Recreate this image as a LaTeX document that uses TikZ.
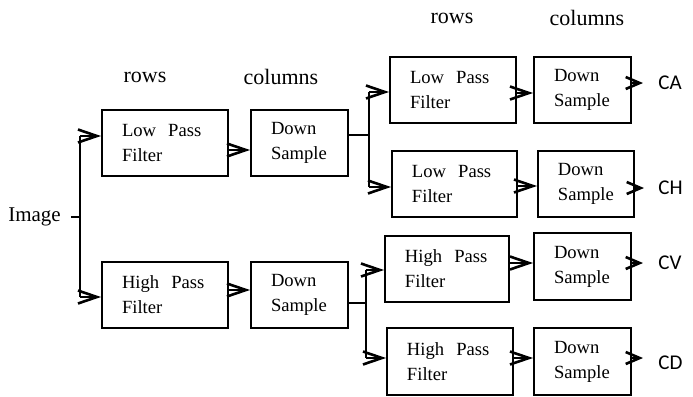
\documentclass[tikz,border=0pt]{standalone}
\usepackage{fontspec}
\setmainfont{Liberation Serif}
\newfontfamily\calib{Carlito}
\usetikzlibrary{arrows.meta,calc}
\begin{document}
\begin{tikzpicture}[x=0.5pt,y=-0.5pt,
  blk/.style={draw,line width=1pt,rectangle,inner ysep=0pt,inner xsep=10pt,align=left,
     minimum height=33pt,font=\fontsize{9.3}{12.5}\selectfont},
  filt/.style={blk,text width=43pt},
  dsb/.style={blk,text width=28.5pt},
  hdr/.style={font=\fontsize{11}{13}\selectfont,inner sep=0pt},
  outl/.style={font=\calib\fontsize{10.5}{12}\selectfont,anchor=west,inner sep=0pt},
  con/.style={line width=1pt},
  arr/.style={con,-{Straight Barb[length=9.5pt,width=6.5pt,line width=1.3pt]}},
  oarr/.style={con,-{Straight Barb[length=7pt,width=6pt,line width=1.3pt]}}]
\useasboundingbox (0,0) rectangle (693,397);
% headers
\node[hdr] (r1) at (145,77) {rows};
\node[hdr] (c1) at (281,77) {columns};
\node[hdr] (r2) at (452,18) {rows};
\node[hdr] (c2) at (587,18) {columns};
% input
\node[font=\fontsize{10.5}{12}\selectfont,inner sep=0pt] (img) at (34.5,217) {Image};
% first stage
\node[filt] (lpf1) at (165,143) {Low\hspace{0.65em}Pass\\Filter};
\node[dsb] (ds1) at (299.5,143) {Down\\Sample};
\node[filt] (hpf1) at (165,295) {High\hspace{0.65em}Pass\\Filter};
\node[dsb] (ds2) at (299.5,295) {Down\\Sample};
% second stage
\node[filt,text width=43pt] (lpf2) at (453,90) {Low\hspace{0.65em}Pass\\Filter};
\node[dsb] (ds3) at (582.5,90) {Down\\Sample};
\node[filt,text width=42.5pt] (lpf3) at (454.5,184) {Low\hspace{0.65em}Pass\\Filter};
\node[dsb,text width=28pt] (ds4) at (586,184) {Down\\Sample};
\node[filt,text width=42pt] (hpf2) at (447,269) {High\hspace{0.65em}Pass\\Filter};
\node[dsb,minimum height=33.5pt] (ds5) at (582.5,266.5) {Down\\Sample};
\node[filt,minimum height=33.5pt] (hpf3) at (450,361.5) {High\hspace{0.65em}Pass\\Filter};
\node[dsb,minimum height=33.5pt] (ds6) at (582.5,361.5) {Down\\Sample};
% outputs
\node[outl] (ca) at (658,83) {CA};
\node[outl] (ch) at (658,188) {CH};
\node[outl] (cv) at (658,263) {CV};
\node[outl] (cd) at (658,363) {CD};
% junctions
\coordinate (t0) at (71,217);
\coordinate (j0) at (80,217);
\coordinate (s1t) at (80,136);
\coordinate (s1b) at (80,297);
\coordinate (m1) at (0,150);
\coordinate (m2) at (0,290);
\coordinate (j1) at (369,135);
\coordinate (s2t) at (369,92);
\coordinate (s2b) at (369,187);
\coordinate (j2) at (366,303);
\coordinate (s3t) at (366,270);
\coordinate (s3b) at (366,358);
\coordinate (m3) at (0,93);
\coordinate (m4) at (0,186);
\coordinate (m5) at (0,263);
\coordinate (m6) at (0,358);
\coordinate (e1) at (643,83);
\coordinate (e2) at (644,188);
\coordinate (e3) at (643,263);
\coordinate (e4) at (643,358);
% connectors stage 1
\draw[con] (t0) -- (j0);
\draw[con] (s1t) -- (s1b);
\draw[arr] (s1t) -- (s1t -| lpf1.west);
\draw[arr] (s1b) -- (s1b -| hpf1.west);
\draw[arr] (lpf1.east |- m1) -- (ds1.west |- m1);
\draw[arr] (hpf1.east |- m2) -- (ds2.west |- m2);
% to stage 2
\draw[con] (j1 -| ds1.east) -- (j1);
\draw[con] (s2t) -- (s2b);
\draw[arr] (s2t) -- (s2t -| lpf2.west);
\draw[arr] (s2b) -- (s2b -| lpf3.west);
\draw[con] (j2 -| ds2.east) -- (j2);
\draw[con] (s3t) -- (s3b);
\draw[arr] (s3t) -- (s3t -| hpf2.west);
\draw[arr] (s3b) -- (s3b -| hpf3.west);
% stage 2 internal
\draw[arr] (lpf2.east |- m3) -- (ds3.west |- m3);
\draw[arr] (lpf3.east |- m4) -- (ds4.west |- m4);
\draw[arr] (hpf2.east |- m5) -- (ds5.west |- m5);
\draw[arr] (hpf3.east |- m6) -- (ds6.west |- m6);
% outputs
\draw[oarr] (e1 -| ds3.east) -- (e1);
\draw[oarr] (e2 -| ds4.east) -- (e2);
\draw[oarr] (e3 -| ds5.east) -- (e3);
\draw[oarr] (e4 -| ds6.east) -- (e4);
\end{tikzpicture}
\end{document}
